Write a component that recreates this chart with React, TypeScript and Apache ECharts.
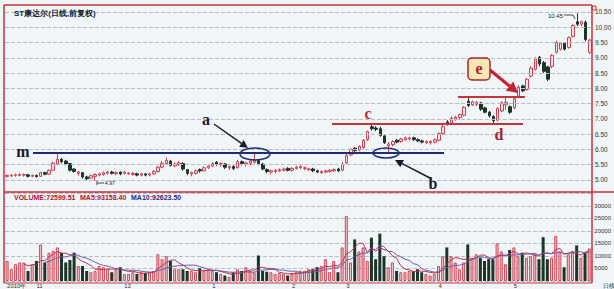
import React, { useEffect, useRef } from "react";
import * as echarts from "echarts";

// [open, close, low, high]
const candles: number[][] = [
  [5.12,5.15,5.08,5.18],[5.14,5.16,5.10,5.19],[5.15,5.17,5.11,5.21],[5.15,5.18,5.12,5.22],[5.16,5.18,5.11,5.21],
  [5.17,5.12,5.08,5.19],[5.12,5.15,5.09,5.18],[5.15,5.11,5.08,5.18],[5.12,5.24,5.10,5.27],[5.24,5.19,5.15,5.27],
  [5.19,5.32,5.16,5.35],[5.32,5.55,5.30,5.60],[5.52,5.68,5.50,5.88],[5.68,5.60,5.55,5.72],[5.62,5.52,5.48,5.66],
  [5.54,5.32,5.28,5.56],[5.36,5.28,5.24,5.38],[5.22,5.26,5.14,5.30],[5.24,5.10,5.04,5.26],[5.10,5.04,5.00,5.14],
  [5.06,5.14,5.04,5.18],[5.12,5.18,4.97,5.22],[5.16,5.20,5.12,5.24],[5.18,5.24,5.14,5.28],[5.22,5.26,5.18,5.30],
  [5.26,5.22,5.18,5.30],[5.20,5.24,5.16,5.28],[5.26,5.20,5.16,5.28],[5.22,5.26,5.18,5.30],[5.20,5.23,5.16,5.26],
  [5.18,5.22,5.14,5.26],[5.20,5.16,5.12,5.24],[5.16,5.20,5.12,5.24],[5.20,5.16,5.12,5.23],[5.16,5.20,5.12,5.24],
  [5.20,5.28,5.16,5.32],[5.28,5.42,5.24,5.46],[5.42,5.54,5.38,5.62],[5.54,5.64,5.50,5.74],[5.62,5.48,5.44,5.66],
  [5.46,5.52,5.42,5.58],[5.50,5.56,5.46,5.62],[5.54,5.36,5.30,5.58],[5.34,5.22,5.16,5.36],[5.20,5.24,5.12,5.28],
  [5.22,5.30,5.18,5.34],[5.34,5.30,5.24,5.38],[5.30,5.40,5.28,5.44],[5.40,5.46,5.36,5.50],[5.46,5.54,5.42,5.58],
  [5.58,5.52,5.46,5.62],[5.50,5.54,5.44,5.58],[5.52,5.42,5.36,5.56],[5.40,5.44,5.32,5.48],[5.44,5.38,5.32,5.48],
  [5.40,5.60,5.38,5.66],[5.60,5.54,5.48,5.64],[5.52,5.56,5.44,5.60],[5.54,5.62,5.48,5.66],[5.58,5.66,5.54,5.88],
  [5.64,5.54,5.48,5.68],[5.52,5.36,5.32,5.56],[5.34,5.28,5.22,5.38],[5.26,5.30,5.18,5.34],[5.28,5.32,5.22,5.36],
  [5.30,5.34,5.26,5.38],[5.32,5.36,5.28,5.40],[5.38,5.32,5.28,5.42],[5.32,5.38,5.28,5.42],[5.38,5.42,5.34,5.46],
  [5.40,5.44,5.36,5.48],[5.38,5.40,5.32,5.44],[5.34,5.36,5.30,5.40],[5.36,5.30,5.26,5.40],[5.30,5.26,5.22,5.34],
  [5.24,5.28,5.20,5.32],[5.26,5.30,5.22,5.34],[5.28,5.32,5.24,5.36],[5.30,5.34,5.26,5.38],[5.36,5.30,5.26,5.40],
  [5.32,5.52,5.28,5.58],[5.56,5.80,5.52,5.86],[5.82,6.00,5.78,6.04],[6.04,5.96,5.92,6.08],[5.98,6.10,5.94,6.14],
  [6.06,6.30,6.02,6.34],[6.32,6.58,6.28,6.62],[6.74,6.68,6.62,6.87],[6.70,6.66,6.60,6.76],[6.68,6.46,6.42,6.74],
  [6.44,6.22,6.18,6.48],[6.12,6.18,5.88,6.24],[6.16,6.26,6.10,6.30],[6.30,6.24,6.20,6.34],[6.26,6.34,6.22,6.38],
  [6.32,6.38,6.28,6.42],[6.34,6.38,6.30,6.42],[6.38,6.32,6.28,6.42],[6.32,6.28,6.24,6.36],[6.28,6.24,6.20,6.32],
  [6.22,6.26,6.18,6.30],[6.22,6.26,6.16,6.30],[6.24,6.32,6.20,6.36],[6.30,6.52,6.26,6.56],[6.52,6.74,6.48,6.80],
  [6.90,6.84,6.78,6.96],[6.86,7.02,6.82,7.08],[7.00,7.06,6.94,7.10],[7.04,7.14,6.98,7.18],[7.12,7.38,7.08,7.42],
  [7.58,7.44,7.38,7.72],[7.46,7.56,7.42,7.60],[7.48,7.54,7.42,7.58],[7.52,7.32,7.26,7.56],[7.36,7.22,7.18,7.40],
  [7.22,7.10,7.04,7.26],[7.08,6.94,6.87,7.12],[6.96,7.34,6.92,7.38],[7.26,7.52,7.22,7.58],[7.46,7.54,7.30,7.72],
  [7.40,7.22,7.16,7.44],[7.36,7.66,7.32,7.72],[7.74,8.04,7.70,8.10],[8.08,7.92,7.88,8.12],[7.96,8.30,7.92,8.34],
  [8.40,8.66,8.36,8.72],[8.62,8.96,8.58,9.02],[9.02,8.80,8.72,9.06],[8.84,8.56,8.50,8.90],[8.70,8.30,8.24,8.74],
  [8.72,9.08,8.66,9.12],[9.18,9.50,9.14,9.56],[9.28,9.48,9.24,9.52],[9.48,9.28,9.24,9.52],[9.34,9.66,9.30,9.70],
  [9.70,10.06,9.66,10.10],[10.18,10.10,10.04,10.45],[10.10,10.18,10.04,10.22],[10.16,9.60,9.54,10.22],[9.18,9.58,9.12,9.62],
];

const volumes: number[] = [
  8000,4700,6700,7400,7400,4000,6700,8000,14600,7400,
  11300,12000,13400,11300,7400,8400,11300,6000,6000,4000,
  3500,4000,6000,5500,4700,3500,4700,5500,2800,2800,
  3500,2800,3500,3200,3500,4000,10700,8700,9900,8000,
  4700,4700,4700,4000,4000,3500,5100,4000,4700,4000,
  3500,2800,2200,1600,3500,4700,4000,5500,4000,3500,
  10200,4000,3700,3500,2800,3200,2800,2200,3200,3500,
  4100,4100,4700,4700,5500,6000,8700,3500,8000,3500,
  13400,26000,7400,16600,11800,13400,8000,17300,8700,18900,
  9900,5500,7400,4000,3500,3500,4000,4000,4700,3500,
  2800,2200,2800,6000,9900,13400,9900,7400,4700,7400,
  14600,9300,10700,9300,8000,8700,8700,15000,11800,6700,
  12400,13400,9900,11300,9300,9900,10700,8700,17500,8700,
  9300,18000,11800,5500,10700,12000,14200,9300,11300,13000,
];

const monthLabels: [number, string][] = [
  [0, "2010年"], [7, "11"], [28, "12"], [49, "1"], [68, "2"], [81, "3"], [103, "4"], [121, "5"],
];

const priceTicks: number[] = [5.0, 5.5, 6.0, 6.5, 7.0, 7.5, 8.0, 8.5, 9.0, 9.5, 10.0, 10.5];
const volTickMax = 30000;

const PRICE_MIN = 4.607;
const PRICE_MAX = 10.696;
const VOL_MAX = 35530;

const RED = "#c8323a";
const NAVY = "#1f2c72";
const DARK = "#1c3528";

function ma(n: number): (number | string)[] {
  return volumes.map((_, i) => {
    if (i < n - 1) return "-";
    let s = 0;
    for (let k = i - n + 1; k <= i; k++) s += volumes[k];
    return +(s / n).toFixed(1);
  });
}

function arrowHead(tx: number, ty: number, fx: number, fy: number, len: number, half: number) {
  const dx = tx - fx, dy = ty - fy;
  const L = Math.hypot(dx, dy);
  const ux = dx / L, uy = dy / L;
  const bx = tx - ux * len, by = ty - uy * len;
  const nx = -uy, ny = ux;
  return { base: [bx, by], pts: [[tx, ty], [bx + nx * half, by + ny * half], [bx - nx * half, by - ny * half]] };
}

export default function App() {
  const ref = useRef<HTMLDivElement>(null);
  useEffect(() => {
    if (!ref.current) return;
    const chart = echarts.init(ref.current, undefined, { renderer: "svg" });
    const xLabels = candles.map(() => "");
    monthLabels.forEach(([i, s]) => (xLabels[i] = s));
    const isUp = candles.map((c) => c[1] >= c[0]);

    const aH = arrowHead(248, 148, 214, 124, 8, 4);
    const bH = arrowHead(395, 160, 430, 178, 8, 4);
    const eH = arrowHead(518, 93, 490, 70, 11, 6);

    const serif = "'Liberation Serif', 'DejaVu Serif', serif";

    const option: any = {
      animation: false,
      backgroundColor: "#f0f6f8",
      textStyle: { fontFamily: "'Liberation Sans', Arial, sans-serif" },
      grid: [
        { left: 5, right: 22, top: 6, height: 186 },
        { left: 5, right: 22, top: 192, height: 90 },
      ],
      xAxis: [
        { type: "category", gridIndex: 0, data: xLabels, boundaryGap: true, axisLine: { show: false }, axisTick: { show: false }, axisLabel: { show: false }, splitLine: { show: false } },
        {
          type: "category", gridIndex: 1, data: xLabels, boundaryGap: true,
          axisLine: { show: false }, axisTick: { show: false }, splitLine: { show: false },
          axisLabel: { interval: 0, align: "left", fontSize: 6, color: "#333", margin: 2 },
        },
      ],
      yAxis: [
        { type: "value", gridIndex: 0, min: PRICE_MIN, max: PRICE_MAX, show: false, splitLine: { show: false } },
        {
          type: "value", gridIndex: 1, min: 0, max: VOL_MAX, interval: 5000, position: "right",
          axisLine: { show: false }, axisTick: { show: false },
          axisLabel: { fontSize: 6, color: "#333", margin: 3, formatter: (v: number) => (v === 0 || v > volTickMax ? "" : String(v)) },
          splitLine: { lineStyle: { type: "dashed", color: "#b4bec8", width: 1 } },
        },
      ],
      series: [
        {
          type: "candlestick",
          xAxisIndex: 0, yAxisIndex: 0,
          data: candles,
          barWidth: 3,
          itemStyle: { color: "#fbe4e6", color0: DARK, borderColor: "#d0404e", borderColor0: DARK, borderWidth: 1 },
          markLine: {
            silent: true, symbol: "none", animation: false,
            lineStyle: { type: "dashed", color: "#b4bec8", width: 1 },
            label: { position: "end", distance: 3, fontSize: 6.5, color: "#333", formatter: (p: any) => Number(p.value).toFixed(2) },
            data: priceTicks.map((v) => ({ yAxis: v })),
          },
          z: 3,
        },
        {
          type: "bar",
          xAxisIndex: 1, yAxisIndex: 1,
          barWidth: 3,
          data: volumes.map((v, i) => ({
            value: v,
            itemStyle: isUp[i] ? { color: "#f3c6ca", borderColor: "#d04858", borderWidth: 1 } : { color: DARK },
          })),
        },
        { type: "line", xAxisIndex: 1, yAxisIndex: 1, data: ma(5), showSymbol: false, lineStyle: { width: 1, color: "#c03048" }, z: 4 },
        { type: "line", xAxisIndex: 1, yAxisIndex: 1, data: ma(10), showSymbol: false, lineStyle: { width: 1, color: "#6a5aa8" }, z: 4 },
      ],
      graphic: [
        // frame
        { type: "line", shape: { x1: 4, y1: 5, x2: 592, y2: 5 }, style: { stroke: RED, lineWidth: 1.5 }, z: 50 },
        { type: "line", shape: { x1: 4, y1: 5, x2: 4, y2: 283 }, style: { stroke: RED, lineWidth: 1.5 }, z: 50 },
        { type: "line", shape: { x1: 592, y1: 5, x2: 592, y2: 283 }, style: { stroke: RED, lineWidth: 1.5 }, z: 50 },
        { type: "line", shape: { x1: 4, y1: 192, x2: 614, y2: 192 }, style: { stroke: RED, lineWidth: 1.5 }, z: 50 },
        { type: "line", shape: { x1: 4, y1: 283, x2: 592, y2: 283 }, style: { stroke: RED, lineWidth: 1 }, z: 50 },
        { type: "rect", shape: { x: 592, y: 6, width: 4, height: 4 }, style: { fill: "none", stroke: RED, lineWidth: 1 }, z: 50 },
        // titles
        { type: "text", x: 14, y: 13, style: { text: "ST康达尔(日线,前复权)", fontSize: 8, fontWeight: "bold", fill: "#1a1a2a", verticalAlign: "middle" }, z: 50 },
        { type: "text", x: 14, y: 197, style: { text: "VOLUME:72599.51", fontSize: 7, fontWeight: "bold", fill: "#b0142e", verticalAlign: "middle" }, z: 50 },
        { type: "text", x: 80, y: 197, style: { text: "MA5:93158.40", fontSize: 7, fontWeight: "bold", fill: "#b0142e", verticalAlign: "middle" }, z: 50 },
        { type: "text", x: 131, y: 197, style: { text: "MA10:92623.50", fontSize: 7, fontWeight: "bold", fill: "#2a2a78", verticalAlign: "middle" }, z: 50 },
        { type: "text", x: 603, y: 286, style: { text: "日线", fontSize: 6, fill: "#222", verticalAlign: "middle" }, z: 50 },
        // high / low markers
        { type: "text", x: 563, y: 16, style: { text: "10.45", fontSize: 6, fill: "#222", align: "right", verticalAlign: "middle" }, z: 50 },
        { type: "polyline", shape: { points: [[564, 15], [573, 15], [575, 19]] }, style: { stroke: "#222", lineWidth: 0.8, fill: "none" }, z: 50 },
        { type: "line", shape: { x1: 97, y1: 183, x2: 104, y2: 183 }, style: { stroke: "#222", lineWidth: 0.8 }, z: 50 },
        { type: "line", shape: { x1: 97, y1: 181, x2: 97, y2: 185 }, style: { stroke: "#222", lineWidth: 0.8 }, z: 50 },
        { type: "text", x: 105, y: 183, style: { text: "4.97", fontSize: 5, fill: "#222", verticalAlign: "middle" }, z: 50 },
        // annotation lines
        { type: "line", shape: { x1: 33, y1: 153, x2: 444, y2: 153 }, style: { stroke: NAVY, lineWidth: 2 }, z: 40 },
        { type: "line", shape: { x1: 332, y1: 124, x2: 523, y2: 124 }, style: { stroke: RED, lineWidth: 2 }, z: 40 },
        { type: "line", shape: { x1: 458, y1: 97, x2: 525, y2: 97 }, style: { stroke: RED, lineWidth: 2 }, z: 40 },
        { type: "ellipse", shape: { cx: 255, cy: 154, rx: 15, ry: 6 }, style: { fill: "none", stroke: NAVY, lineWidth: 1.5 }, z: 41 },
        { type: "ellipse", shape: { cx: 386, cy: 153, rx: 13, ry: 5 }, style: { fill: "none", stroke: NAVY, lineWidth: 1.5 }, z: 41 },
        // arrows
        { type: "line", shape: { x1: 214, y1: 124, x2: aH.base[0], y2: aH.base[1] }, style: { stroke: "#1a1a2a", lineWidth: 1.5 }, z: 42 },
        { type: "polygon", shape: { points: aH.pts }, style: { fill: "#1a1a2a" }, z: 42 },
        { type: "line", shape: { x1: 430, y1: 178, x2: bH.base[0], y2: bH.base[1] }, style: { stroke: "#1a1a2a", lineWidth: 1.5 }, z: 42 },
        { type: "polygon", shape: { points: bH.pts }, style: { fill: "#1a1a2a" }, z: 42 },
        { type: "line", shape: { x1: 490, y1: 70, x2: eH.base[0], y2: eH.base[1] }, style: { stroke: "#c42030", lineWidth: 3 }, z: 42 },
        { type: "polygon", shape: { points: eH.pts }, style: { fill: "#c42030" }, z: 42 },
        // e box
        { type: "rect", shape: { x: 468, y: 58, width: 22, height: 22, r: 4 }, style: { fill: "#f7e7b4", stroke: "#a8242a", lineWidth: 1.5 }, z: 43 },
        { type: "text", x: 479, y: 68, style: { text: "e", fontSize: 16, fontFamily: serif, fontWeight: "bold", fill: "#a8242a", align: "center", verticalAlign: "middle" }, z: 44 },
        // letters
        { type: "text", x: 23, y: 151, style: { text: "m", fontSize: 16, fontFamily: serif, fontWeight: "bold", fill: "#1a1a2a", align: "center", verticalAlign: "middle" }, z: 44 },
        { type: "text", x: 206, y: 119, style: { text: "a", fontSize: 16, fontFamily: serif, fontWeight: "bold", fill: "#1a1a2a", align: "center", verticalAlign: "middle" }, z: 44 },
        { type: "text", x: 368, y: 113, style: { text: "c", fontSize: 16, fontFamily: serif, fontWeight: "bold", fill: "#c42a30", align: "center", verticalAlign: "middle" }, z: 44 },
        { type: "text", x: 433, y: 183, style: { text: "b", fontSize: 16, fontFamily: serif, fontWeight: "bold", fill: "#1a1a2a", align: "center", verticalAlign: "middle" }, z: 44 },
        { type: "text", x: 499, y: 134, style: { text: "d", fontSize: 16, fontFamily: serif, fontWeight: "bold", fill: "#a8242a", align: "center", verticalAlign: "middle" }, z: 44 },
      ],
    };
    chart.setOption(option);
    return () => chart.dispose();
  }, []);
  return <div ref={ref} style={{ position: "fixed", left: 0, top: 0, width: 614, height: 289 }} />;
}
